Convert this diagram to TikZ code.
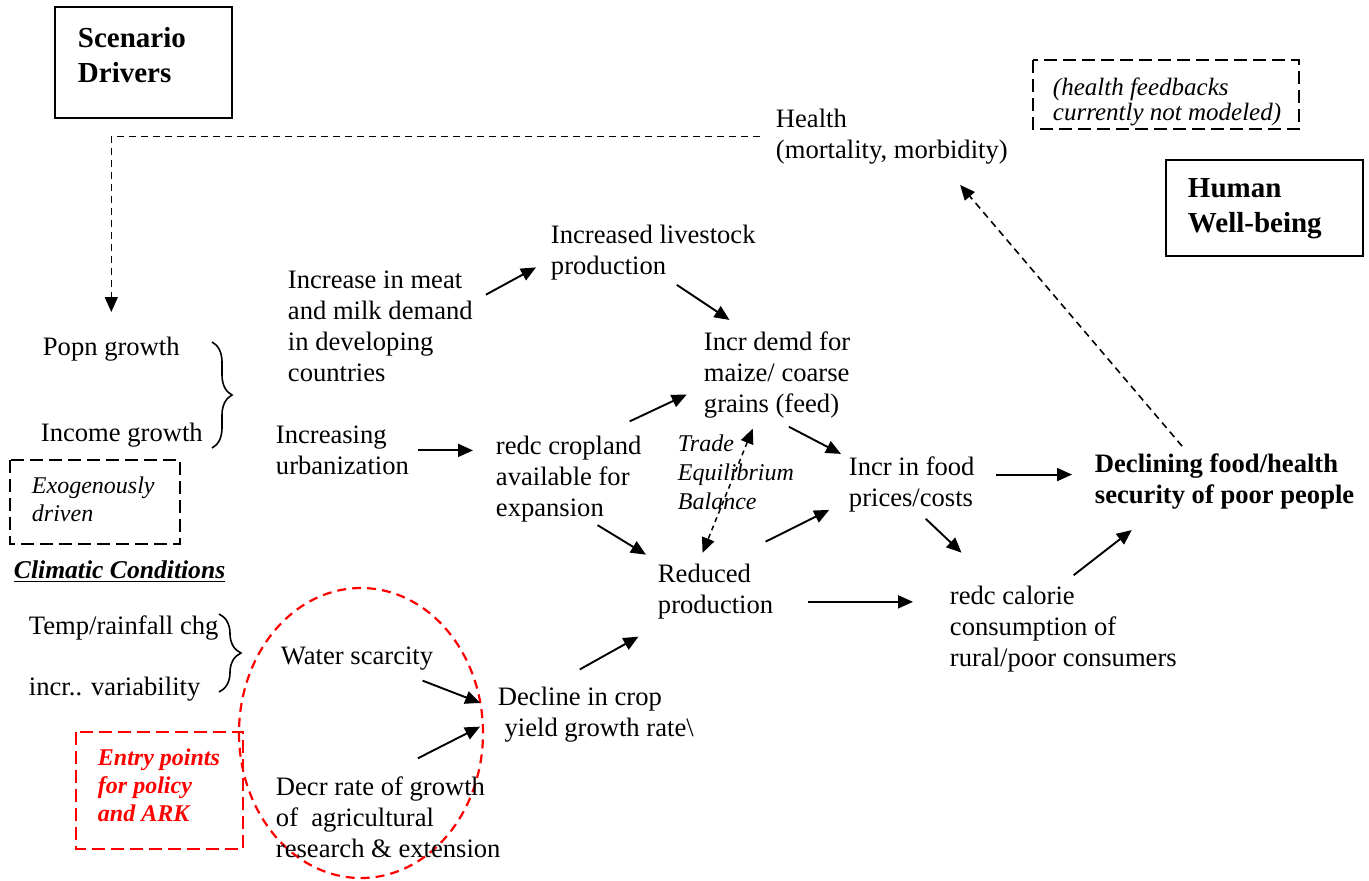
\documentclass[tikz,border=0pt]{standalone}
\usepackage{fontspec}
\setmainfont{Liberation Serif}
\usetikzlibrary{arrows.meta,decorations.pathreplacing}

\begin{document}
\begin{tikzpicture}[
            x = 0.5pt, y = -0.5pt, % one unit per pixel of the drawing
            > = {Triangle[length=7.5pt,width=6.5pt]}, % arrow head style
            line width = 0.95pt,
            txt/.style = {anchor=north west, inner sep=0pt, align=left,
                          font=\fontsize{13.3}{15.5}\selectfont},
            boldtxt/.style = {txt, font=\fontsize{13.3}{15.5}\selectfont\bfseries},
            head/.style = {txt, font=\fontsize{14.5}{17.5}\selectfont\bfseries},
            note/.style = {txt, font=\fontsize{12}{14}\selectfont\itshape},
            dashbox/.style = {draw, dash pattern=on 6.5pt off 3pt, line width=0.9pt},
            feedback/.style = {->, dash pattern=on 3.5pt off 2.5pt, line width=0.8pt},
            curly/.style = {decorate, decoration={brace, amplitude=#1}, line width=0.8pt}
        ]
\useasboundingbox (0,0) rectangle (1369,880);

% boxes and side notes
\draw (55,7) rectangle (232,118);
\node[head] (scen) at (77,26) {Scenario\\Drivers};
\draw (1166,160) rectangle (1363,256);
\node[head] (hwb) at (1187,178) {Human\\Well-being};
\draw[dashbox] (1033,60) rectangle (1299,129);
\node[note, font=\fontsize{12.5}{12.5}\selectfont\itshape] (hfb) at (1052,77) {(health feedbacks\\currently not modeled)};
\draw[dashbox] (10,460) rectangle (180,544);
\node[note] (exo) at (31,476) {Exogenously\\driven};
\node[txt, font=\fontsize{12.8}{15}\selectfont\bfseries\itshape] (clim) at (13,560) {\underline{Climatic Conditions}};
\draw[dashbox, red] (76,732) rectangle (243,849);
\node[txt, red, font=\fontsize{12}{14}\selectfont\bfseries\itshape] (entry) at (97,748) {Entry points\\for policy\\and ARK};
\draw[dashbox, red, dash pattern=on 4.5pt off 3pt, line width=1.1pt] (361,733) ellipse [x radius=61pt, y radius=72.5pt];

% drivers
\node[txt] (popn) at (42,336) {Popn growth};
\node[txt] (income) at (40,422) {Income growth};
\draw[curly=10pt] (212,342) -- (212,448);
\node[txt] (temp) at (28,615) {Temp/rainfall chg};
\node[txt] (incr) at (28,676) {incr.. variability};
\draw[curly=11pt] (219,614) -- (219,692);

% chain
\node[txt] (meat) at (287,270) {Increase in meat\\and milk demand\\in developing\\countries};
\node[txt] (lstock) at (550,224) {Increased livestock\\production};
\node[txt] (demd) at (703,331) {Incr demd for\\maize/ coarse\\grains (feed)};
\node[txt] (urban) at (275,425) {Increasing\\urbanization};
\node[txt] (crop) at (495,435) {redc cropland\\available for\\expansion};
\node[note, font=\fontsize{12}{14.5}\selectfont\itshape] (trade) at (677,434) {Trade\\Equilibrium\\Balance};
\node[txt] (reduced) at (657,563) {Reduced\\production};
\node[txt] (water) at (280,646) {Water scarcity};
\node[txt] (decr) at (275,776) {Decr rate of growth\\of \ agricultural\\research \& extension};
\node[txt] (decline) at (497,686) {Decline in crop\\\ yield growth rate\textbackslash};
\node[txt] (food) at (848,456) {Incr in food\\prices/costs};
\node[txt] (calorie) at (949,585) {redc calorie\\consumption of\\rural/poor consumers};
\node[boldtxt] (decl) at (1094,453) {Declining food/health\\security of poor people};
\node[txt] (health) at (775,108) {Health\\(mortality, morbidity)};

 \path [->] (meat.15) edge[shorten <=7pt, shorten >=8pt] (lstock.184);
 \path [->] (lstock.302) edge[shorten <=3.5pt, shorten >=10pt] (demd.125);
 \draw [->, shorten <=4pt, shorten >=11pt] (urban.east) -- (urban.east -| crop.west);
 \path [->] (crop.54) edge[shorten <=16pt, shorten >=9pt] (demd.189);
 \path [->] (crop.300) edge[shorten <=2pt, shorten >=8pt] (reduced.153);
 \path [->] (decline.148) edge[shorten <=17pt, shorten >=17pt] (reduced.211);
 \path [->] (water.343) edge[shorten <=13pt, shorten >=9pt] (decline.177);
 \path [->] (decr.97) edge[shorten <=19.5pt, shorten >=9.5pt] (decline.182);
 \path [->] (reduced.76) edge[shorten <=24pt, shorten >=10.5pt] (food.194);
 \path [->] (demd.267) edge[shorten <=8pt, shorten >=4pt] (food.157);
 \draw [->, shorten <=10.5pt, shorten >=11pt] (food.9) -- (food.9 -| decl.west);
 \path [->] (food.286) edge[shorten <=4pt, shorten >=23.5pt] (calorie.147);
 \draw [->, shorten <=17pt, shorten >=18pt] (reduced.350) -- (reduced.350 -| calorie.west);
 \path [->] (calorie.93) edge[shorten <=8pt, shorten >=16pt] (decl.203);

% feedback links
 \path [feedback] (decl.142) edge[shorten <=4.5pt, shorten >=13pt] (health.331);
 \draw [feedback, shorten <=7.5pt, shorten >=12pt] (health.west) -| (popn.north);
 \path [<->, dash pattern=on 2.5pt off 2pt, line width=0.75pt] (demd.245) edge[shorten <=5pt, shorten >=5.5pt] (reduced.121);
\end{tikzpicture}
\end{document}
